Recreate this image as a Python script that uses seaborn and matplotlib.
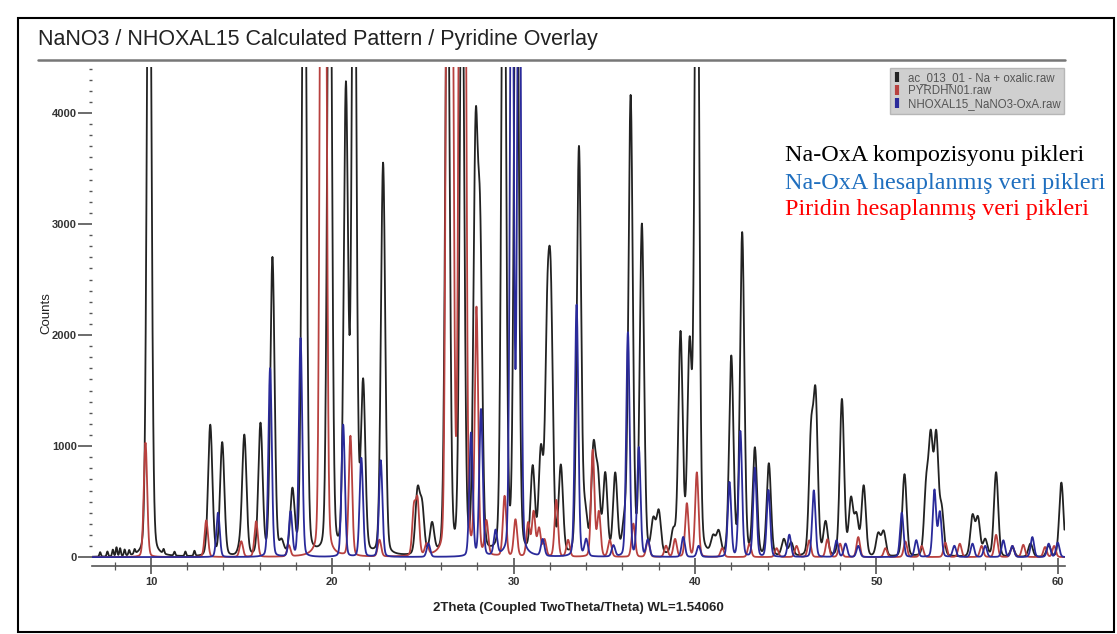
import numpy as np
import pandas as pd
import matplotlib
matplotlib.use("Agg")
import matplotlib.pyplot as plt
from matplotlib.lines import Line2D
from matplotlib.patches import Rectangle
from matplotlib.ticker import MultipleLocator
import seaborn as sns

# ---------------- data (peak lists) ----------------
black_pos = [7.2, 7.6, 7.9, 8.1, 8.3, 8.55, 8.8, 9.1, 9.9, 10.7, 11.3, 11.9, 12.4,
             13.27, 13.93, 14.9, 15.15, 16.04, 16.7, 17.2, 17.8, 18.45, 19.85, 20.75,
             21.2, 21.7, 22.8, 24.7, 24.95, 25.5, 26.35, 27.15, 27.9, 28.15, 29.45,
             30.15, 31.05, 31.5, 31.85, 32.05, 32.6, 33.6, 33.95, 34.4, 34.65, 35.05,
             35.6, 36.1, 36.45, 37.07, 37.7, 38.0, 38.8, 39.2, 39.7, 40.1, 41.0, 41.3,
             42.0, 42.6, 43.3, 44.07, 44.9, 45.3, 46.4, 46.65, 47.2, 48.1, 48.6, 48.9,
             49.3, 50.1, 50.4, 51.55, 52.75, 53.0, 53.3, 53.6, 55.3, 55.6, 56.0, 56.6,
             57.5, 58.5, 59.5, 60.2]
black_h = [40, 45, 60, 80, 70, 55, 45, 40, 7000, 40, 35, 40, 45,
           1180, 1020, 60, 1080, 1180, 2680, 110, 560, 7000, 7000, 4150,
           7000, 1500, 3530, 560, 420, 270, 6000, 6000, 3600, 2700, 7000,
           7000, 760, 900, 1850, 2100, 780, 3670, 350, 920, 650, 720,
           720, 250, 4120, 2960, 300, 380, 200, 1980, 1820, 7000, 150, 200,
           1780, 2900, 960, 830, 150, 120, 1050, 1380, 300, 1410, 500, 350,
           630, 200, 220, 740, 600, 1000, 1050, 400, 360, 340, 150, 760,
           80, 120, 100, 670]

red_pos = [9.7, 13.05, 14.98, 15.8, 17.6, 19.4, 19.6, 21.0, 22.6, 24.5, 24.7, 25.2,
           26.35, 26.6, 27.05, 27.3, 27.95, 28.5, 29.5, 30.1, 30.8, 31.1, 31.4, 31.7,
           32.35, 33.0, 34.36, 34.7, 35.3, 36.6, 37.4, 38.4, 38.9, 39.55, 40.1, 41.5,
           43.0, 44.5, 45.6, 46.3, 47.3, 48.0, 49.0, 50.5, 51.6, 52.5, 53.8, 54.6,
           55.8, 56.6, 57.5, 58.1, 59.3, 59.8]
red_h = [1030, 330, 140, 320, 100, 7000, 7000, 1080, 150, 420, 480, 100,
         7000, 6000, 7000, 6500, 2200, 300, 540, 330, 300, 400, 250, 150,
         510, 150, 960, 400, 150, 300, 150, 100, 160, 480, 760, 80,
         120, 80, 100, 150, 160, 120, 180, 80, 140, 100, 130, 120,
         100, 200, 100, 110, 90, 100]

blue_pos = [13.7, 16.57, 17.7, 18.25, 20.6, 21.6, 22.67, 25.3, 27.65, 28.2, 29.0,
            29.9, 30.3, 31.6, 33.47, 34.0, 35.5, 36.3, 36.9, 37.4, 39.35, 40.2, 41.9,
            42.5, 43.3, 44.05, 45.2, 46.55, 47.8, 48.3, 49.0, 51.4, 52.2, 53.2, 53.5,
            54.3, 55.3, 56.0, 57.0, 57.5, 58.6, 59.5, 60.0]
blue_h = [400, 1700, 400, 1970, 1190, 890, 870, 120, 1110, 1320, 220,
          7000, 7000, 150, 2270, 150, 100, 2020, 980, 150, 180, 100, 670,
          1130, 800, 600, 200, 600, 150, 120, 100, 400, 150, 600, 400,
          100, 120, 100, 150, 100, 180, 120, 130]

series_labels = ["ac_013_01 - Na + oxalic.raw", "PYRDHN01.raw", "NHOXAL15_NaNO3-OxA.raw"]
note_lines = ["Na-OxA kompozisyonu pikleri",
              "Na-OxA hesaplanmış veri pikleri",
              "Piridin hesaplanmış veri pikleri"]

# ---------------- build profiles from peak lists ----------------
tt = np.arange(6.75, 60.38, 0.01)

def profile(pos, h, fwhm, eta=0.15):
    y = np.zeros_like(tt)
    for p, a in zip(pos, h):
        w = fwhm * (0.35 if a < 90 and p < 13 else 1.0)
        g = np.exp(-4 * np.log(2) * ((tt - p) / w) ** 2)
        l = 1.0 / (1.0 + 4 * ((tt - p) / w) ** 2)
        y += a * (eta * l + (1 - eta) * g)
    return y

frames = []
for lab, pos, h, fw in [(series_labels[0], black_pos, black_h, 0.28),
                        (series_labels[1], red_pos, red_h, 0.22),
                        (series_labels[2], blue_pos, blue_h, 0.22)]:
    frames.append(pd.DataFrame({"2theta": tt, "counts": profile(pos, h, fw), "series": lab}))
df = pd.concat(frames, ignore_index=True)

colors = {series_labels[0]: "#222222", series_labels[1]: "#b8413f", series_labels[2]: "#2a2a9a"}

# ---------------- figure ----------------
sns.set_style("ticks")
plt.rcParams["font.family"] = ["Liberation Sans", "DejaVu Sans"]

fig = plt.figure(figsize=(11.17, 6.34), dpi=100)
ax = fig.add_axes([92 / 1117, 1 - 566 / 634, (1065 - 92) / 1117, (566 - 67) / 634])

sns.lineplot(data=df, x="2theta", y="counts", hue="series", palette=colors,
             hue_order=series_labels, linewidth=1.3, ax=ax, legend=False, sort=False,
             estimator=None)

ax.set_xlim(6.75, 60.4)
ax.set_ylim(-80, 4415)
for s in ["top", "right", "left"]:
    ax.spines[s].set_visible(False)
ax.spines["bottom"].set_color("#555555")
ax.spines["bottom"].set_linewidth(1.2)

ax.xaxis.set_major_locator(MultipleLocator(10))
ax.xaxis.set_minor_locator(MultipleLocator(2))
ax.yaxis.set_major_locator(MultipleLocator(1000))
ax.yaxis.set_minor_locator(MultipleLocator(100))
ax.tick_params(which="both", left=True, bottom=True, top=False, right=False)
ax.tick_params(axis="x", which="major", direction="inout", length=12, width=1.1,
               color="#444444", labelsize=8, pad=2)
ax.tick_params(axis="x", which="minor", direction="inout", length=6, width=0.9, color="#555555")
ax.tick_params(axis="y", which="major", direction="out", length=10, width=1.1,
               color="#444444", labelsize=8, pad=1)
ax.tick_params(axis="y", which="minor", direction="out", length=2.5, width=1.0, color="#555555")
for t in ax.get_xticklabels() + ax.get_yticklabels():
    t.set_fontweight("bold")
    t.set_color("#333333")

ax.set_xlabel("2Theta (Coupled TwoTheta/Theta) WL=1.54060", fontsize=9.5,
              fontweight="bold", color="#222222", labelpad=11)
ax.set_ylabel("Counts", fontsize=9.5, color="#222222")
ax.yaxis.set_label_coords(-0.041, (566 - 313) / 499)

# legend box
handles = [Line2D([0], [0], color=colors[l], lw=0, marker="|", markersize=7,
                  markeredgewidth=3) for l in series_labels]
leg = ax.legend(handles, series_labels, loc="upper right", bbox_to_anchor=(1.0, 1.0),
                fontsize=8.3, frameon=True, handlelength=0.6, handletextpad=0.6,
                labelspacing=0.12, borderpad=0.3, borderaxespad=0.1, fancybox=False)
leg.get_frame().set_facecolor("#c4c4c4")
leg.get_frame().set_edgecolor("#aaaaaa")
for t in leg.get_texts():
    t.set_color("#555555")

# annotation
ys = [155, 183, 210]
ncol = ["#000000", "#1f6fbf", "#ff0000"]
for txt, yy, c in zip(note_lines, ys, ncol):
    fig.text(785 / 1117, 1 - yy / 634, txt, fontsize=17.4, color=c,
             family=["Liberation Serif", "DejaVu Serif"], va="center", ha="left")

# title and rule
fig.text(38 / 1117, 1 - 40 / 634, "NaNO3 / NHOXAL15 Calculated Pattern / Pyridine Overlay",
         fontsize=15.5, color="#222222", va="center", ha="left")
fig.add_artist(Line2D([38 / 1117, 1065 / 1117], [1 - 60 / 634, 1 - 60 / 634],
                      color="#777777", lw=1.8, transform=fig.transFigure))
# frame
fig.add_artist(Rectangle((18 / 1117, 2 / 634), 1096 / 1117, 614 / 634, fill=False,
                         edgecolor="black", lw=1.5, transform=fig.transFigure))

fig.savefig("out.png", dpi=100)
